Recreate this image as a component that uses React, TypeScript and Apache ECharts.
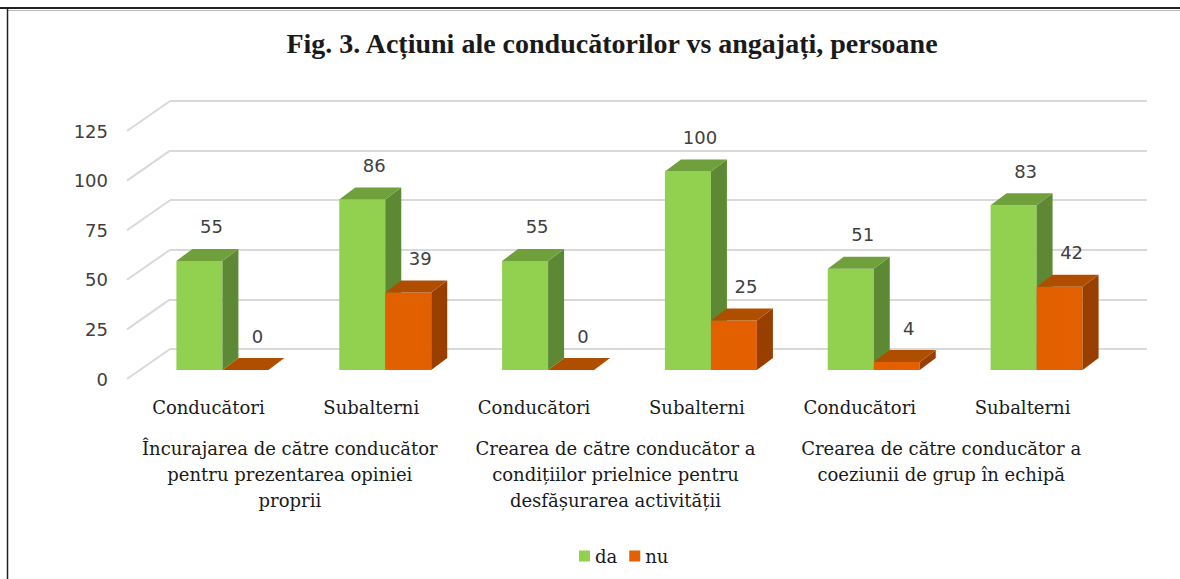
import React, { useEffect, useRef } from 'react';
import * as echarts from 'echarts';

const categories = ['Conducători', 'Subalterni', 'Conducători', 'Subalterni', 'Conducători', 'Subalterni'];
const groups = [
  'Încurajarea de către conducător\npentru prezentarea opiniei\nproprii',
  'Crearea de către conducător a\ncondițiilor prielnice pentru\ndesfășurarea activității',
  'Crearea de către conducător a\ncoeziunii de grup în echipă',
];
const daValues = [55, 86, 55, 100, 51, 83];
const nuValues = [0, 39, 0, 25, 4, 42];
const yTicks = [0, 25, 50, 75, 100, 125];
const seriesNames = ['da', 'nu'];
const titleText = 'Fig. 3. Acțiuni ale conducătorilor vs angajați, persoane';

const GREEN = { front: '#92D050', side: '#5E8934', top: '#6FA03C' };
const ORANGE = { front: '#E36000', side: '#983F00', top: '#B04E00' };

// 3D geometry (pixels)
const BAR_W = 46;
const FX = 29; // front face offset from back plane
const FY = 21;
const DEPTH_X = 16;
const DEPTH_Y = 12;
const WALL_DX = 43;
const WALL_DY = 30;

function makeBar(slot: number, c: { front: string; side: string; top: string }) {
  return (params: any, api: any) => {
    const ci = api.value(0);
    const v = api.value(1);
    const base = api.coord([ci, 0]);
    const top = api.coord([ci, v]);
    const x0 = base[0] + slot * BAR_W - FX;
    const x1 = x0 + BAR_W;
    const yt = top[1] + FY;
    const yb = base[1] + FY;
    const children: any[] = [];
    if (yb - yt > 0) {
      children.push({
        type: 'rect',
        shape: { x: x0, y: yt, width: BAR_W, height: yb - yt },
        style: { fill: c.front },
      });
      children.push({
        type: 'polygon',
        shape: {
          points: [
            [x1, yt],
            [x1 + DEPTH_X, yt - DEPTH_Y],
            [x1 + DEPTH_X, yb - DEPTH_Y],
            [x1, yb],
          ],
        },
        style: { fill: c.side },
      });
    }
    children.push({
      type: 'polygon',
      shape: {
        points: [
          [x0, yt],
          [x0 + DEPTH_X, yt - DEPTH_Y],
          [x1 + DEPTH_X, yt - DEPTH_Y],
          [x1, yt],
        ],
      },
      style: { fill: c.top },
    });
    children.push({
      type: 'text',
      style: {
        text: String(v),
        x: x0 + BAR_W / 2 + DEPTH_X / 2 + 4,
        y: yt - 34,
        align: 'center',
        verticalAlign: 'middle',
        font: '18px "DejaVu Sans"',
        fill: '#404040',
      },
    });
    return { type: 'group', children };
  };
}

export default function App() {
  const ref = useRef<HTMLDivElement>(null);
  useEffect(() => {
    if (!ref.current) return;
    const chart = echarts.init(ref.current, null, { renderer: 'svg' });
    const serif = '"DejaVu Serif", serif';
    chart.setOption({
      animation: false,
      backgroundColor: '#ffffff',
      title: {
        text: titleText,
        left: 612,
        top: 29,
        padding: 0,
        textAlign: 'center',
        textStyle: {
          fontFamily: '"Liberation Serif", "Times New Roman", serif',
          fontWeight: 'bold',
          fontSize: 28,
          color: '#1a1a1a',
        },
      },
      legend: {
        data: seriesNames,
        left: 579,
        top: 547,
        padding: 0,
        itemWidth: 11,
        itemHeight: 11,
        itemGap: 12,
        icon: 'rect',
        textStyle: { fontFamily: serif, fontSize: 18, color: '#1a1a1a' },
      },
      graphic: [
        { type: 'line', shape: { x1: 0, y1: 8, x2: 1180, y2: 8 }, style: { stroke: '#222', lineWidth: 2 } },
        { type: 'line', shape: { x1: 8, y1: 10.5, x2: 1180, y2: 10.5 }, style: { stroke: '#bbb', lineWidth: 1 } },
        { type: 'line', shape: { x1: 7.5, y1: 8, x2: 7.5, y2: 579 }, style: { stroke: '#222', lineWidth: 1.5 } },
      ],
      grid: [
        { left: 170, top: 101, width: 977, height: 248 },
        { left: 127, top: 131, width: 977, height: 248 },
      ],
      xAxis: [
        { gridIndex: 0, type: 'category', data: categories, show: false },
        {
          gridIndex: 1,
          type: 'category',
          data: categories,
          position: 'bottom',
          axisLine: { show: false },
          axisTick: { show: false },
          axisLabel: { interval: 0, margin: 19, fontFamily: serif, fontSize: 18, color: '#1a1a1a' },
        },
        {
          gridIndex: 1,
          type: 'category',
          data: groups,
          position: 'bottom',
          offset: 36,
          axisLine: { show: false },
          axisTick: { show: false },
          axisLabel: {
            interval: 0,
            margin: 20,
            fontFamily: serif,
            fontSize: 18,
            lineHeight: 26,
            color: '#1a1a1a',
          },
        },
      ],
      yAxis: [
        {
          gridIndex: 0,
          type: 'value',
          min: 0,
          max: 125,
          interval: 25,
          axisLabel: { show: false },
          axisLine: { show: false },
          axisTick: { show: false },
          splitLine: { show: true, lineStyle: { color: '#D9D9D9', width: 2 } },
        },
        {
          gridIndex: 1,
          type: 'value',
          min: 0,
          max: 125,
          interval: 25,
          axisLine: { show: false },
          axisTick: { show: false },
          splitLine: { show: false },
          axisLabel: { margin: 19, fontFamily: '"DejaVu Sans", sans-serif', fontSize: 18, color: '#404040' },
        },
      ],
      series: [
        {
          type: 'custom',
          name: 'wall',
          xAxisIndex: 0,
          yAxisIndex: 0,
          silent: true,
          z: 1,
          data: yTicks.map((t) => [0, t]),
          renderItem: (params: any, api: any) => {
            const p = api.coord([0, api.value(1)]);
            const cs = params.coordSys;
            return {
              type: 'line',
              shape: { x1: cs.x - WALL_DX, y1: p[1] + WALL_DY, x2: cs.x, y2: p[1] },
              style: { stroke: '#D9D9D9', lineWidth: 2 },
            };
          },
        },
        {
          type: 'custom',
          name: 'da',
          xAxisIndex: 0,
          yAxisIndex: 0,
          z: 2,
          itemStyle: { color: GREEN.front },
          data: daValues.map((v, i) => [i, v]),
          renderItem: makeBar(-1, GREEN),
        },
        {
          type: 'custom',
          name: 'nu',
          xAxisIndex: 0,
          yAxisIndex: 0,
          z: 3,
          itemStyle: { color: ORANGE.front },
          data: nuValues.map((v, i) => [i, v]),
          renderItem: makeBar(0, ORANGE),
        },
      ],
    });
    return () => chart.dispose();
  }, []);
  return (
    <div
      ref={ref}
      style={{ position: 'absolute', left: 0, top: 0, width: 1180, height: 579 }}
    />
  );
}
